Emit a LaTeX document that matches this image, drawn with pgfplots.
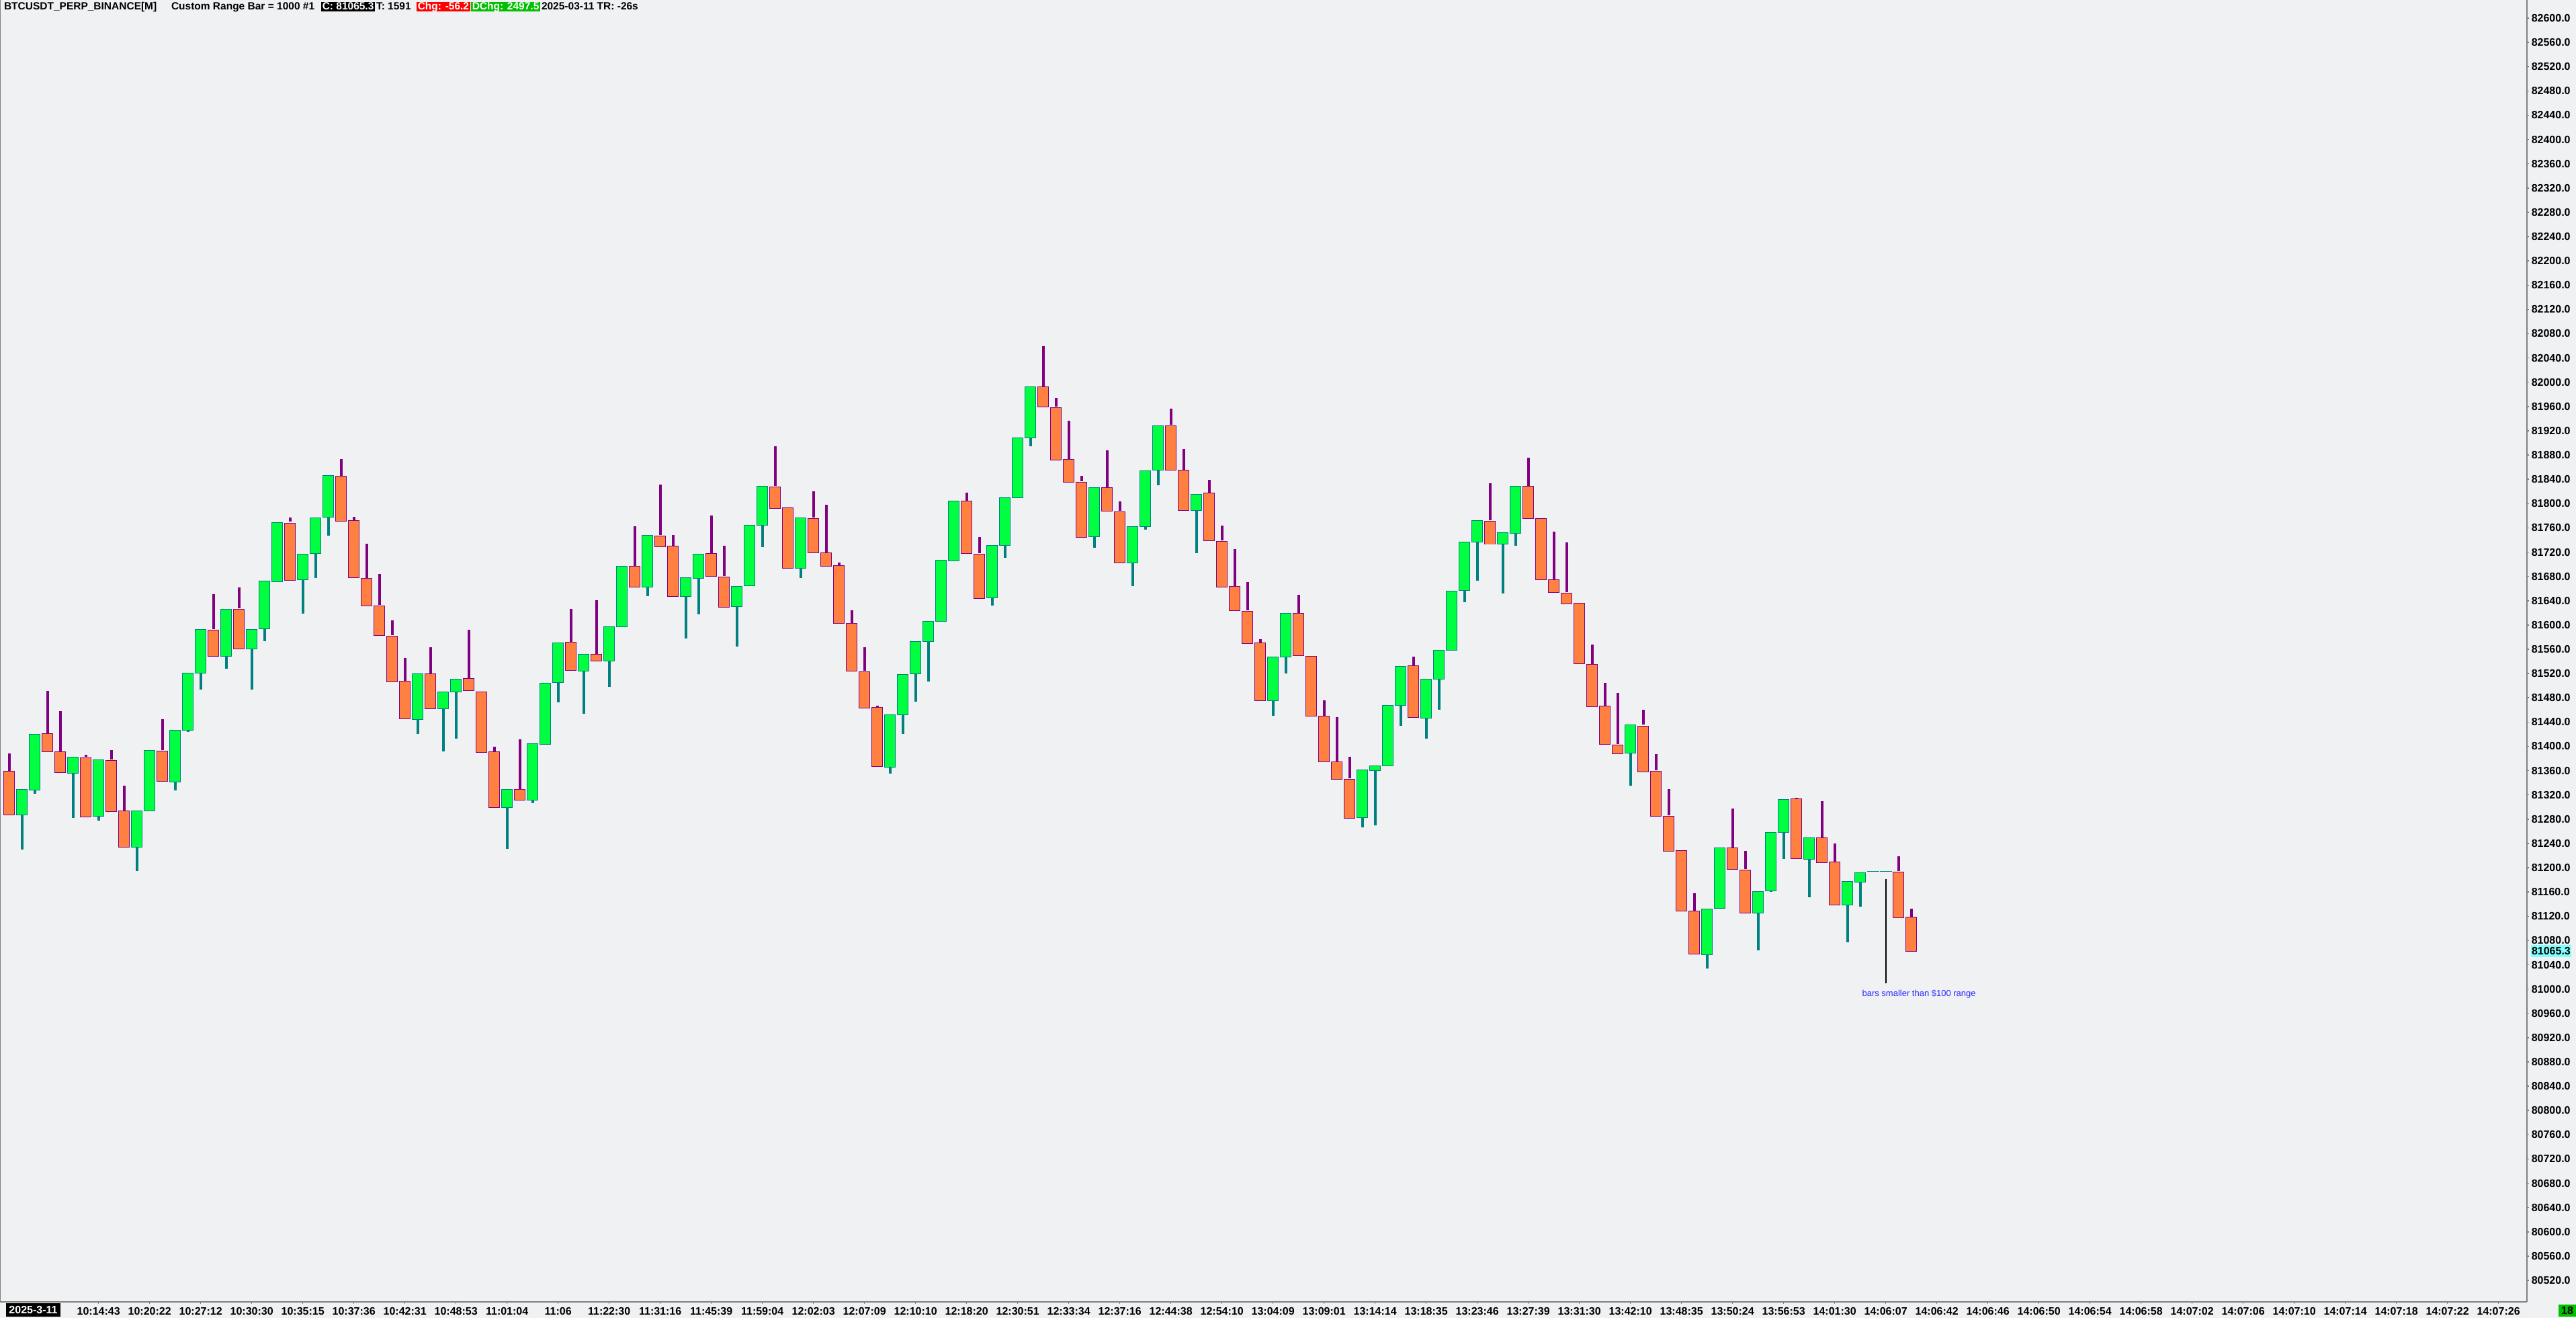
\documentclass[border=0pt]{standalone}
\usepackage{pgfplots}
\pgfplotsset{compat=1.18}
\usepackage{pgfplotstable}
\usepackage{fontspec}
\setmainfont{Liberation Sans}
\definecolor{bg}{RGB}{240,241,243}
\definecolor{bullfill}{RGB}{0,255,64}
\definecolor{bearfill}{RGB}{255,128,64}
\definecolor{purp}{RGB}{128,0,128}
\definecolor{tealc}{RGB}{0,128,128}
\definecolor{axgray}{RGB}{128,128,128}
\definecolor{hdrgreen}{RGB}{0,192,0}
\definecolor{hdrred}{RGB}{255,0,0}
\definecolor{cyanbox}{RGB}{128,255,255}
\definecolor{annblue}{RGB}{40,40,255}

% bearish bars: x, body top (open), body bottom (close), high, low
\pgfplotstableread{
x top bot hi lo
0 81359.9 81286.9 81388.3 81286.9
3 81421.0 81391.1 81491.2 81391.1
4 81391.1 81356.7 81458.1 81356.7
6 81382.4 81284.6 81386.1 81284.6
8 81377.8 81293.8 81393.9 81293.8
9 81293.8 81233.6 81335.1 81233.6
12 81393.4 81343.3 81444.8 81343.3
16 81593.6 81549.5 81651.0 81549.5
18 81627.1 81561.5 81662.0 81561.5
22 81769.9 81675.8 81777.3 81675.8
26 81846.2 81772.2 81873.3 81772.2
27 81772.2 81677.6 81778.2 81677.6
28 81677.6 81632.6 81733.7 81632.6
29 81632.6 81583.5 81684.1 81583.5
30 81583.5 81507.3 81607.4 81507.3
31 81507.3 81445.3 81545.4 81445.3
33 81520.6 81463.2 81563.3 81463.2
36 81511.9 81492.1 81592.2 81492.1
37 81492.1 81392.0 81492.1 81392.0
38 81392.0 81299.3 81399.4 81299.3
40 81330.0 81312.1 81411.3 81312.1
44 81571.6 81525.2 81626.2 81525.2
46 81552.7 81540.8 81640.9 81540.8
49 81697.8 81663.4 81762.6 81663.4
51 81747.9 81730.0 81831.5 81730.0
52 81730.0 81646.9 81748.4 81646.9
55 81718.1 81680.4 81780.5 81680.4
56 81680.4 81630.8 81730.5 81630.8
60 81828.7 81793.4 81894.4 81793.4
61 81793.4 81693.7 81793.4 81693.7
63 81776.8 81719.9 81820.5 81719.9
64 81719.9 81697.8 81798.0 81697.8
65 81697.8 81602.8 81702.9 81602.8
66 81602.8 81524.3 81624.4 81524.3
67 81524.1 81464.0 81563.2 81464.0
68 81464.0 81366.6 81466.7 81366.6
75 81805.2 81717.9 81818.0 81717.9
76 81717.9 81644.9 81745.0 81644.9
81 81993.4 81959.5 82059.6 81959.5
82 81959.5 81873.1 81974.2 81873.1
83 81873.1 81836.4 81936.5 81836.4
84 81836.4 81745.9 81845.6 81745.9
86 81826.3 81787.7 81887.8 81787.7
87 81787.7 81703.2 81803.8 81703.2
91 81929.6 81856.1 81956.2 81856.1
92 81856.1 81790.0 81890.1 81790.0
94 81817.6 81739.0 81839.2 81739.0
95 81739.0 81663.7 81763.8 81663.7
96 81663.7 81623.8 81724.8 81623.8
97 81623.8 81571.0 81670.6 81571.0
98 81571.0 81475.7 81576.5 81475.7
101 81619.2 81549.4 81649.5 81549.4
102 81549.4 81450.2 81549.4 81450.2
103 81450.2 81374.9 81476.0 81374.9
104 81374.9 81346.9 81447.9 81346.9
105 81346.9 81282.6 81382.7 81282.6
110 81532.9 81447.5 81547.6 81447.5
116 81772.1 81733.6 81833.7 81733.6
119 81829.5 81775.3 81875.5 81775.3
120 81775.3 81674.8 81775.3 81674.8
121 81674.8 81653.7 81753.8 81653.7
122 81653.7 81635.8 81735.9 81635.8
123 81635.8 81536.1 81635.8 81536.1
124 81536.1 81466.3 81567.8 81466.3
125 81466.3 81403.4 81504.4 81403.4
126 81403.4 81388.2 81487.9 81388.2
128 81435.5 81360.2 81460.3 81360.2
129 81360.2 81285.8 81387.3 81285.8
130 81286.0 81228.3 81329.6 81228.3
131 81228.3 81128.5 81228.3 81128.5
132 81128.5 81057.5 81157.7 81057.5
135 81233.2 81197.4 81297.7 81197.4
136 81197.4 81126.3 81227.7 81126.3
140 81313.7 81215.0 81315.3 81215.0
142 81250.3 81209.5 81309.8 81209.5
143 81209.5 81139.6 81239.8 81139.6
148 81194.1 81118.6 81218.9 81118.6
149 81118.6 81061.9 81132.4 81061.9
}\bear

% bullish bars: x, body top (close), body bottom (open), high, low
\pgfplotstableread{
x top bot hi lo
1 81329.1 81286.9 81329.1 81230.4
2 81421.0 81329.1 81421.0 81322.2
5 81382.4 81356.7 81382.4 81282.3
7 81377.8 81284.6 81377.8 81278.1
10 81293.8 81233.6 81293.8 81195.0
11 81393.4 81293.8 81393.4 81293.8
13 81427.8 81343.3 81427.8 81327.3
14 81522.0 81427.8 81522.0 81423.2
15 81593.6 81522.0 81593.6 81493.5
17 81627.1 81549.5 81627.1 81527.9
19 81593.6 81561.5 81593.6 81493.5
20 81672.6 81593.6 81672.6 81573.4
21 81769.9 81672.6 81769.9 81670.3
23 81718.1 81675.8 81718.1 81618.9
24 81776.8 81718.1 81776.8 81677.2
25 81846.2 81776.8 81846.2 81747.0
32 81520.6 81445.3 81520.6 81420.5
34 81490.8 81463.2 81490.8 81392.0
35 81511.9 81490.8 81511.9 81413.1
39 81330.0 81299.3 81330.0 81231.3
41 81405.3 81312.1 81405.3 81306.6
42 81506.4 81405.3 81506.4 81405.3
43 81571.6 81506.4 81571.6 81472.4
45 81552.7 81525.2 81552.7 81453.6
47 81597.3 81540.8 81597.3 81498.1
48 81697.8 81597.3 81697.8 81597.3
50 81747.9 81663.4 81747.9 81647.3
53 81678.1 81646.9 81678.1 81577.5
54 81718.1 81678.1 81718.1 81617.5
57 81664.8 81630.8 81664.8 81564.2
58 81764.4 81664.8 81764.4 81664.8
59 81828.7 81764.4 81828.7 81728.2
62 81776.8 81693.7 81776.8 81677.2
69 81453.0 81366.6 81453.0 81355.0
70 81519.5 81453.0 81519.5 81420.8
71 81572.8 81519.5 81572.8 81474.1
72 81605.9 81572.8 81605.9 81507.2
73 81706.9 81605.9 81706.9 81605.9
74 81805.2 81706.9 81805.2 81706.9
77 81731.2 81644.9 81731.2 81632.5
78 81809.8 81731.2 81809.8 81710.6
79 81909.4 81809.8 81909.4 81809.8
80 81993.4 81909.4 81993.4 81894.7
85 81826.3 81745.9 81826.3 81727.1
88 81763.4 81703.2 81763.4 81664.2
89 81856.1 81763.4 81856.1 81757.0
90 81929.6 81856.1 81929.6 81830.0
93 81817.6 81790.0 81817.6 81718.4
99 81547.1 81475.7 81547.1 81449.8
100 81619.2 81547.1 81619.2 81520.5
106 81361.2 81282.6 81361.2 81266.0
107 81369.0 81361.2 81369.0 81270.2
108 81468.6 81369.0 81468.6 81369.0
109 81532.9 81468.6 81532.9 81434.2
111 81511.8 81447.5 81511.8 81413.0
112 81559.5 81511.8 81559.5 81460.8
113 81657.3 81559.5 81657.3 81558.2
114 81736.8 81657.3 81736.8 81638.0
115 81772.1 81736.8 81772.1 81673.4
117 81752.4 81733.6 81752.4 81652.3
118 81829.5 81752.4 81829.5 81730.8
127 81435.5 81388.2 81435.5 81335.4
133 81132.9 81057.5 81132.9 81033.8
134 81233.2 81132.9 81233.2 81132.9
137 81162.7 81126.3 81162.7 81063.5
138 81259.1 81162.7 81259.1 81160.0
139 81313.7 81259.1 81313.7 81214.5
141 81250.3 81215.0 81250.3 81151.1
144 81177.6 81139.6 81177.6 81077.3
145 81194.1 81177.6 81194.1 81135.7
}\bull

% bars smaller than the range (flat)
\pgfplotstableread{
x y
146 81194.1
147 81194.1
}\flat

\newcommand\tickfont{\bfseries\fontsize{3.2}{3.2}\selectfont}

\begin{document}
\begin{tikzpicture}
\useasboundingbox (0,0) rectangle (766.8pt,392.2pt);
\fill[bg] (0,0) rectangle (766.8pt,392.2pt);
\begin{axis}[
  at={(0pt,4.8pt)}, anchor=south west,
  width=752.2pt, height=387.4pt, scale only axis,
  xmin=-0.721, xmax=197.23, ymin=80484.6, ymax=82629.9,
  axis x line*=bottom, axis y line*=right,
  axis line style={draw=axgray, line width=0.3pt, -},
  tick align=outside, major tick length=0.6pt,
  tick style={draw=axgray, line width=0.3pt},
  ytick distance=40, scaled y ticks=false,
  yticklabel style={font=\tickfont, anchor=west, inner sep=0pt, xshift=0.55pt,
    /pgf/number format/fixed, /pgf/number format/fixed zerofill,
    /pgf/number format/precision=1, /pgf/number format/1000 sep={},
    /pgf/number format/assume math mode=true},
  xtick={7,11,...,195},
  xticklabels={10:14:43,10:20:22,10:27:12,10:30:30,10:35:15,10:37:36,10:42:31,10:48:53,11:01:04,11:06,11:22:30,11:31:16,11:45:39,11:59:04,12:02:03,12:07:09,12:10:10,12:18:20,12:30:51,12:33:34,12:37:16,12:44:38,12:54:10,13:04:09,13:09:01,13:14:14,13:18:35,13:23:46,13:27:39,13:31:30,13:42:10,13:48:35,13:50:24,13:56:53,14:01:30,14:06:07,14:06:42,14:06:46,14:06:50,14:06:54,14:06:58,14:07:02,14:07:06,14:07:10,14:07:14,14:07:18,14:07:22,14:07:26},
  xticklabel style={font=\tickfont, anchor=north, inner sep=0pt, yshift=-0.8pt},
  candle/.style={draw=none, mark=none, forget plot,
    error bars/y explicit, error bars/error mark=none},
]
% wicks
\addplot[candle, error bars/y dir=plus,
  error bars/error bar style={draw=purp, line width=0.75pt, solid}]
  table[x=x, y=top, y error plus expr={\thisrow{hi}-\thisrow{top}}] {\bear};
\addplot[candle, error bars/y dir=minus,
  error bars/error bar style={draw=tealc, line width=0.75pt, solid}]
  table[x=x, y=bot, y error minus expr={\thisrow{bot}-\thisrow{lo}}] {\bull};
% bodies: outline then fill
\addplot[candle, error bars/y dir=both,
  error bars/error bar style={draw=purp, line width=3.5pt, solid}]
  table[x=x, y expr={(\thisrow{top}+\thisrow{bot})/2}, y error expr={(\thisrow{top}-\thisrow{bot})/2+0.55}] {\bear};
\addplot[candle, error bars/y dir=both,
  error bars/error bar style={draw=bearfill, line width=3.1pt, solid}]
  table[x=x, y expr={(\thisrow{top}+\thisrow{bot})/2}, y error expr={(\thisrow{top}-\thisrow{bot})/2-0.55}] {\bear};
\addplot[candle, error bars/y dir=both,
  error bars/error bar style={draw=tealc, line width=3.5pt, solid}]
  table[x=x, y expr={(\thisrow{top}+\thisrow{bot})/2}, y error expr={(\thisrow{top}-\thisrow{bot})/2+0.55}] {\bull};
\addplot[candle, error bars/y dir=both,
  error bars/error bar style={draw=bullfill, line width=3.1pt, solid}]
  table[x=x, y expr={(\thisrow{top}+\thisrow{bot})/2}, y error expr={(\thisrow{top}-\thisrow{bot})/2-0.55}] {\bull};
\addplot[candle, error bars/y dir=both,
  error bars/error bar style={draw=tealc, line width=3.6pt, solid}]
  table[x=x, y=y, y error expr={0.55}] {\flat};
% annotation
\addplot[black, line width=0.4pt, mark=none, forget plot] coordinates {(147,81181.3) (147,81009.6)};
\node[anchor=west, inner sep=0pt, text=annblue, font=\fontsize{2.6}{2.6}\selectfont] at (axis cs:145.1,80991.8) {bars smaller than \$100 range};
\draw[axgray, line width=0.3pt] (rel axis cs:0,0) -- (rel axis cs:0,1);
\end{axis}
% current price marker
\node[fill=cyanbox, anchor=west, inner xsep=0.3pt, inner ysep=0pt, minimum height=3.6pt, font=\tickfont] at (753.1pt,109.2pt) {81065.3};
% date box and bar counter
\node[fill=black, text=white, inner xsep=0.9pt, inner ysep=0pt, minimum height=4pt, font=\tickfont] at (9.9pt,2.3pt) {2025-3-11};
\node[fill=hdrgreen, text=black, inner xsep=0.5pt, inner ysep=0pt, minimum height=3.6pt, minimum width=5.2pt, font=\tickfont] at (764.2pt,2.2pt) {18};
% header
\begin{scope}[every node/.style={anchor=base west, inner sep=0pt, font=\bfseries\fontsize{3.1}{3.1}\selectfont}]
\node at (1.0pt,389.2pt) {BTCUSDT\_PERP\_BINANCE[M]};
\node at (50.8pt,389.2pt) {Custom Range Bar = 1000 \#1};
\node[fill=black, text=white, inner xsep=0.35pt, text height=2.3pt, text depth=0.45pt] at (95.4pt,389.2pt) {C: 81065.3};
\node at (111.8pt,389.2pt) {T: 1591};
\node[fill=hdrred, text=white, inner xsep=0.35pt, text height=2.3pt, text depth=0.45pt] at (123.8pt,389.2pt) {Chg: -56.2};
\node[fill=hdrgreen, text=white, inner xsep=0.35pt, text height=2.3pt, text depth=0.45pt] at (140.0pt,389.2pt) {DChg: 2497.5};
\node at (161.0pt,389.2pt) {2025-03-11 TR: -26s};
\end{scope}
\end{tikzpicture}
\end{document}
